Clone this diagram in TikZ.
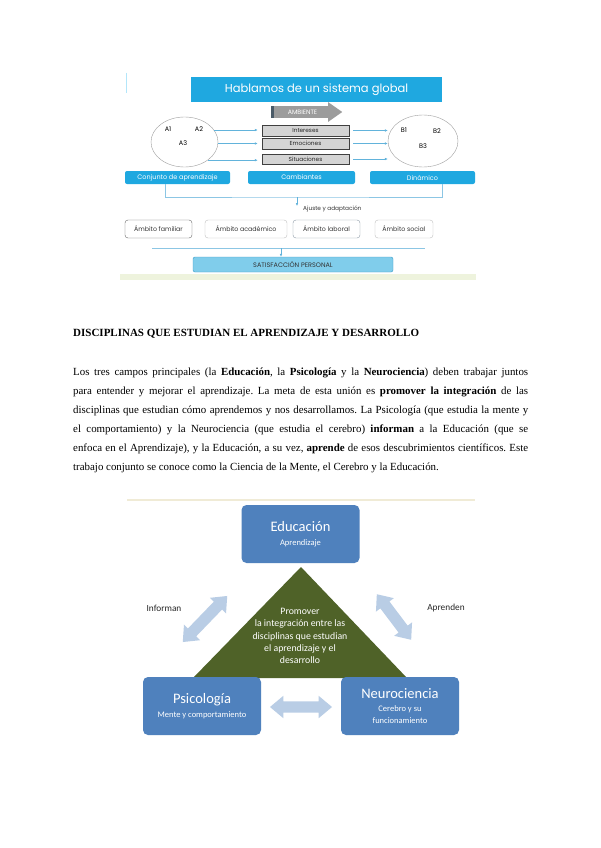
\documentclass[tikz,border=0pt]{standalone}
\usepackage{fontspec}
\setmainfont{Liberation Serif}
\newfontfamily\gothicfont{Poppins}
\newfontfamily\calibfont{Carlito}
\usetikzlibrary{arrows.meta,shapes.geometric,shapes.arrows}

\definecolor{globalblue}{HTML}{1FA8E0}
\definecolor{goalblue}{HTML}{80CDEB}
\definecolor{goalline}{HTML}{3A9CC9}
\definecolor{flowblue}{HTML}{62B3DB}
\definecolor{bracketblue}{HTML}{8CC6E4}
\definecolor{factorgray}{HTML}{D4D4D4}
\definecolor{factorline}{HTML}{404040}
\definecolor{ambgray}{HTML}{9C9C9C}
\definecolor{ambstripe}{HTML}{4B5B68}
\definecolor{realmline}{HTML}{8C99A6}
\definecolor{paleband}{HTML}{EEF3DD}
\definecolor{discblue}{HTML}{4F81BD}
\definecolor{olive}{HTML}{4F6228}
\definecolor{exchblue}{HTML}{B9CDE5}
\definecolor{beigeline}{HTML}{F0EBD6}

\newcommand\nohyphens{\hyphenpenalty=10000\relax\exhyphenpenalty=10000\relax\frenchspacing}
\newcommand\bigname[1]{{\fontsize{14.5}{16}\selectfont #1}}
\newcommand\smallname[1]{{\fontsize{8.5}{10}\selectfont #1}}

\tikzset{
  banner/.style={fill=globalblue,text=white,inner sep=0pt,
    font=\gothicfont\fontsize{11.5}{13}\selectfont},
  tab/.style={fill=globalblue,rounded corners=2pt,text=white,minimum height=13pt,
    inner sep=0pt,font=\gothicfont\fontsize{6.5}{7}\selectfont},
  factor/.style={draw=factorline,fill=factorgray,line width=0.5pt,minimum width=87pt,
    inner sep=0pt,text=black!85,font=\gothicfont\fontsize{5.8}{6}\selectfont},
  cloud/.style={ellipse,draw=gray!75,line width=0.4pt,inner sep=0pt},
  member/.style={inner sep=0pt,font=\gothicfont\fontsize{6.5}{7}\selectfont},
  flow/.style={draw=flowblue,line width=0.5pt,-{Latex[length=3pt,width=2.6pt]}},
  bracket/.style={draw=bracketblue,line width=0.6pt},
  realm/.style={draw=realmline,rounded corners=3pt,fill=white,minimum height=18pt,
    inner sep=0pt,text=black!80,font=\gothicfont\fontsize{6.3}{7}\selectfont},
  goal/.style={draw=goalline,fill=goalblue,rounded corners=2pt,inner sep=0pt,
    minimum width=200pt,minimum height=15pt,text=black!80,
    font=\gothicfont\fontsize{6.5}{7}\selectfont},
  discipline/.style={fill=discblue,rounded corners=5pt,text=white,minimum width=118pt,
    minimum height=58pt,inner sep=0pt,align=center,font=\calibfont},
  exchange/.style={double arrow,fill=exchblue,inner xsep=0pt,inner ysep=5.5pt,
    double arrow head extend=5.5pt,double arrow head indent=0pt,double arrow tip angle=80},
  relation/.style={inner sep=0pt,text=black!85,font=\calibfont\fontsize{9.3}{10}\selectfont},
}

\begin{document}
\begin{tikzpicture}[x=1pt,y=-1pt]
\useasboundingbox (0,0) rectangle (600,848);
\fill[white] (0,0) rectangle (600,848);

% sistema global
\draw[cyan!30,line width=0.8pt] (126,73) -- (126,93);
\node[banner,minimum width=251pt,minimum height=25pt] (title) at (316.5,89.5) {Hablamos de un sistema global};
\node[single arrow,fill=ambgray,inner xsep=0pt,inner ysep=3.5pt,minimum height=71pt,
  single arrow head extend=4pt,single arrow head indent=0pt,single arrow tip angle=70,text=white,
  font=\gothicfont\fontsize{6.3}{7}\selectfont] (amb) at (302.5,112) {AMBIENTE};
\fill[ambstripe] (amb.before tail) rectangle ([xshift=3pt]amb.after tail);

\node[cloud,minimum width=67pt,minimum height=50pt] (setA) at (184.5,142) {};
\node[member] (a1) at (168,129) {A1};
\node[member] (a2) at (199,129) {A2};
\node[member] (a3) at (183,143) {A3};

\node[factor,minimum height=11pt] (inter) at (305.5,130.5) {Intereses};
\node[factor,minimum height=11pt] (emoc) at (305.5,143.5) {Emociones};
\node[factor,minimum height=10pt] (situ) at (305.5,159) {Situaciones};

\node[cloud,minimum width=70pt,minimum height=52pt] (setB) at (423,141) {};
\node[member] (b1) at (404,130) {B1};
\node[member] (b2) at (437,131) {B2};
\node[member] (b3) at (423,146) {B3};

\draw[flow,shorten >=4pt] (setA.22) -- (setA.22 -| inter.west);
\draw[flow,shorten >=4pt] (setA.east |- emoc.west) -- (emoc.west);
\draw[flow,shorten >=4pt] (setA.-38) -- (setA.-38 -| situ.west);
\draw[flow,shorten <=4pt] (inter.east) -- (inter.east -| setB.west);
\draw[flow,shorten <=4pt] (emoc.east) -- (emoc.east -| setB.west);
\draw[flow,shorten <=4pt] (situ.east) -- (situ.east -| setB.west);

\node[tab,minimum width=105pt] (tab1) at (177.5,177.5) {Conjunto de aprendizaje};
\node[tab,minimum width=107pt] (tab2) at (301.5,177.5) {Cambiantes};
\node[tab,minimum width=105pt] (tab3) at (422.5,177.5) {Dinámico};

\coordinate (join) at (297,197);
\coordinate (adjust) at (297,206);
\draw[bracket] ([xshift=-12.5pt]tab1.south) |- (join) -| ([xshift=19.5pt]tab3.south);
\draw[flow] (join) -- (adjust);
\node[member,anchor=west,text=black!80,font=\gothicfont\fontsize{5.8}{6}\selectfont] (adjtext) at (303,209) {Ajuste y adaptación};

\node[realm,minimum width=67pt,draw=black!60] (fam) at (158.5,229) {Ámbito familiar};
\node[realm,minimum width=82pt,draw=black!25] (acad) at (246,229) {Ámbito académico};
\node[realm,minimum width=67pt] (lab) at (326.5,229) {Ámbito laboral};
\node[realm,minimum width=58pt,draw=black!25] (soc) at (404,229) {Ámbito social};

\coordinate (lineL) at (152,248);
\coordinate (lineR) at (425,248);
\coordinate (drop) at (281,248);
\draw[bracket] (lineL) -- (lineR);
\node[goal] (satis) at (293,264.5) {SATISFACCIÓN PERSONAL};
\draw[flow] (drop) -- (drop |- satis.north);
\fill[paleband] (120,274) rectangle (476,280);

% texto
\node[anchor=base west,inner sep=0pt,font=\bfseries\fontsize{11}{12}\selectfont] (heading) at (73,336)
  {DISCIPLINAS QUE ESTUDIAN EL APRENDIZAJE Y DESARROLLO};
\node[anchor=base west,inner sep=0pt,text width=455pt,align=justify,
  font=\fontsize{10.9}{19}\selectfont\nohyphens] (body) at (73,375)
  {Los tres campos principales (la \textbf{Educación}, la \textbf{Psicología} y la \textbf{Neurociencia}) deben trabajar juntos\linebreak
   para entender y mejorar el aprendizaje. La meta de esta unión es \textbf{promover la integración} de las\linebreak
   disciplinas que estudian cómo aprendemos y nos desarrollamos. La Psicología (que estudia la mente y\linebreak
   el comportamiento) y la Neurociencia (que estudia el cerebro) \textbf{informan} a la Educación (que se\linebreak
   enfoca en el Aprendizaje), y la Educación, a su vez, \textbf{aprende} de esos descubrimientos científicos. Este\linebreak
   trabajo conjunto se conoce como la Ciencia de la Mente, el Cerebro y la Educación.};

% triangulo de disciplinas
\fill[beigeline] (127,499) rectangle (475,501);
\coordinate (apex) at (301,567);
\coordinate (baseL) at (193,678);
\coordinate (baseR) at (407,678);
\fill[olive] (apex) -- (baseR) -- (baseL) -- cycle;
\node[align=center,text=white,inner sep=0pt,font=\calibfont\fontsize{9.8}{12.2}\selectfont] (promo) at (300,636)
  {Promover\\la integración entre las\\disciplinas que estudian\\el aprendizaje y el\\desarrollo};

\node[discipline] (edu) at (300.5,534) {\bigname{Educación}\\[2pt]\smallname{Aprendizaje}};
\node[discipline] (psico) at (202,706) {\bigname{Psicología}\\[2pt]\smallname{Mente y comportamiento}};
\node[discipline] (neuro) at (400,706) {\bigname{Neurociencia}\\[1pt]\smallname{Cerebro y su}\\\smallname{funcionamiento}};

\node[exchange,minimum height=64pt,rotate=46] (informs) at (205,619) {};
\node[exchange,minimum height=57pt,rotate=-53] (learns) at (394,617) {};
\node[exchange,minimum height=62pt] (bridge) at (301,707) {};
\node[relation] (informtext) at (164,608) {Informan};
\node[relation] (learntext) at (446,608) {Aprenden};
\end{tikzpicture}
\end{document}
